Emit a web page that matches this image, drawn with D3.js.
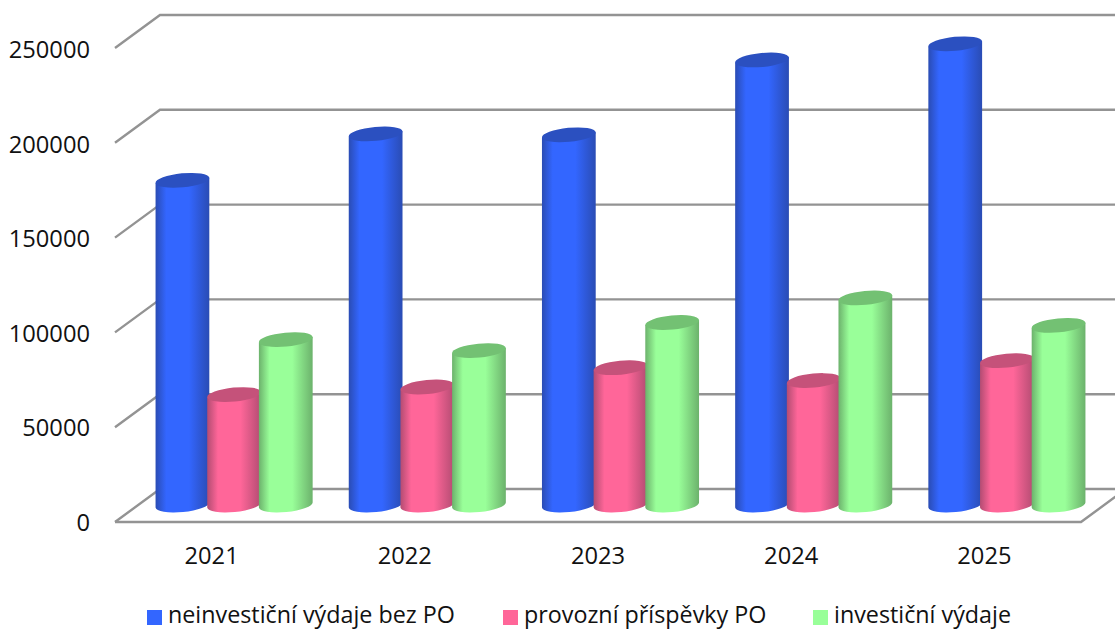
<!DOCTYPE html>
<html>
<head>
<meta charset="utf-8">
<script src="https://cdn.jsdelivr.net/npm/d3@7"></script>
<style>
  html, body { margin: 0; padding: 0; background: #fff; overflow: hidden; }
  text { font-family: "Open Sans", sans-serif; fill: #111; }
</style>
</head>
<body>
<div id="chart"></div>
<script>
var years = ["2021", "2022", "2023", "2024", "2025"];
var seriesNames = ["neinvestiční výdaje bez PO", "provozní příspěvky PO", "investiční výdaje"];
var neinvesticni = [171500, 196000, 195500, 235000, 243500];
var provozni = [58500, 62500, 72700, 65900, 76400];
var investicni = [87500, 81700, 96500, 109500, 95000];
var yTicks = [0, 50000, 100000, 150000, 200000, 250000];

var colors = ["#3366ff", "#ff6699", "#99ff99"];
var edges = ["#2a4cb4", "#b34c72", "#6cb26c"];
var tops = ["#2b50c0", "#c5527a", "#73c173"];
var allSeries = [neinvesticni, provozni, investicni];

var width = 1115, height = 630;
// front floor edge runs 115..1081, back wall is shifted by this depth
var depthX = 45, depthY = -33;
var rx = 27, ry = 7, tilt = -5.5;

var svg = d3.select("#chart").append("svg")
  .attr("width", width)
  .attr("height", height)
  .style("display", "block");

var x = d3.scaleBand().domain(years).range([115, 1081]);
var xInner = d3.scaleBand().domain(d3.range(3)).range([0, 155]);
var y = d3.scaleLinear().domain([0, 250000]).range([522, 48]);
// the labels do not sit exactly on the grid
var yLabel = d3.scaleLinear().domain([0, 250000]).range([530.5, 58]);

var defs = svg.append("defs");
colors.forEach(function(c, i) {
  var g = defs.append("linearGradient").attr("id", "bar" + i);
  [[0, edges[i]], [0.2, c], [0.62, c], [1, edges[i]]].forEach(function(s) {
    g.append("stop").attr("offset", s[0]).attr("stop-color", s[1]);
  });
});

// grid: slanted side piece + back wall line
yTicks.forEach(function(t) {
  svg.append("path")
    .attr("d", "M115," + y(t) + "L" + (115 + depthX) + "," + (y(t) + depthY) + "L1126," + (y(t) + depthY))
    .attr("fill", "none")
    .attr("stroke", "#939393")
    .attr("stroke-width", 2.4);
});
// front and right edge of the floor
svg.append("path")
  .attr("d", "M115," + y(0) + "L1081," + y(0) + "L" + (1081 + depthX) + "," + (y(0) + depthY))
  .attr("fill", "none")
  .attr("stroke", "#939393")
  .attr("stroke-width", 2.4);

// y labels
svg.selectAll(".ylab").data(yTicks).enter().append("text")
  .attr("class", "ylab")
  .attr("x", 90)
  .attr("y", function(d) { return yLabel(d); })
  .attr("text-anchor", "end")
  .style("font-size", "23.7px")
  .text(function(d) { return d; });

// x labels
svg.selectAll(".xlab").data(years).enter().append("text")
  .attr("class", "xlab")
  .attr("x", function(d) { return x(d) + x.bandwidth() / 2; })
  .attr("y", 564)
  .attr("text-anchor", "middle")
  .style("font-size", "23.7px")
  .text(function(d) { return d; });

// cylinders stand half way back on the floor
var dx = Math.cos(tilt * Math.PI / 180) * rx;
var dy = Math.sin(tilt * Math.PI / 180) * rx;
years.forEach(function(yr, i) {
  var groupLeft = x(yr) + x.bandwidth() / 2 + depthX / 2 - 77.5;
  allSeries.forEach(function(vals, s) {
    var cx = groupLeft + xInner(s) + xInner.bandwidth() / 2;
    var yb = y(0) + depthY / 2 - 0.5;
    var yt = y(vals[i]) + depthY / 2;
    svg.append("path")
      .attr("d", "M" + (cx - dx) + "," + (yt - dy) +
        "L" + (cx - dx) + "," + (yb - dy) +
        "A" + rx + "," + ry + " " + tilt + " 0 0 " + (cx + dx) + "," + (yb + dy) +
        "L" + (cx + dx) + "," + (yt + dy) + "Z")
      .attr("fill", "url(#bar" + s + ")");
    svg.append("ellipse")
      .attr("cx", cx)
      .attr("cy", yt)
      .attr("rx", rx)
      .attr("ry", ry)
      .attr("transform", "rotate(" + tilt + " " + cx + " " + yt + ")")
      .attr("fill", tops[s]);
  });
});

// legend
var legendX = [147, 503, 813];
seriesNames.forEach(function(name, i) {
  svg.append("rect")
    .attr("x", legendX[i])
    .attr("y", 610)
    .attr("width", 15)
    .attr("height", 15)
    .attr("fill", colors[i]);
  svg.append("text")
    .attr("x", legendX[i] + 21)
    .attr("y", 623)
    .style("font-size", "23.3px")
    .text(name);
});
</script>
</body>
</html>
